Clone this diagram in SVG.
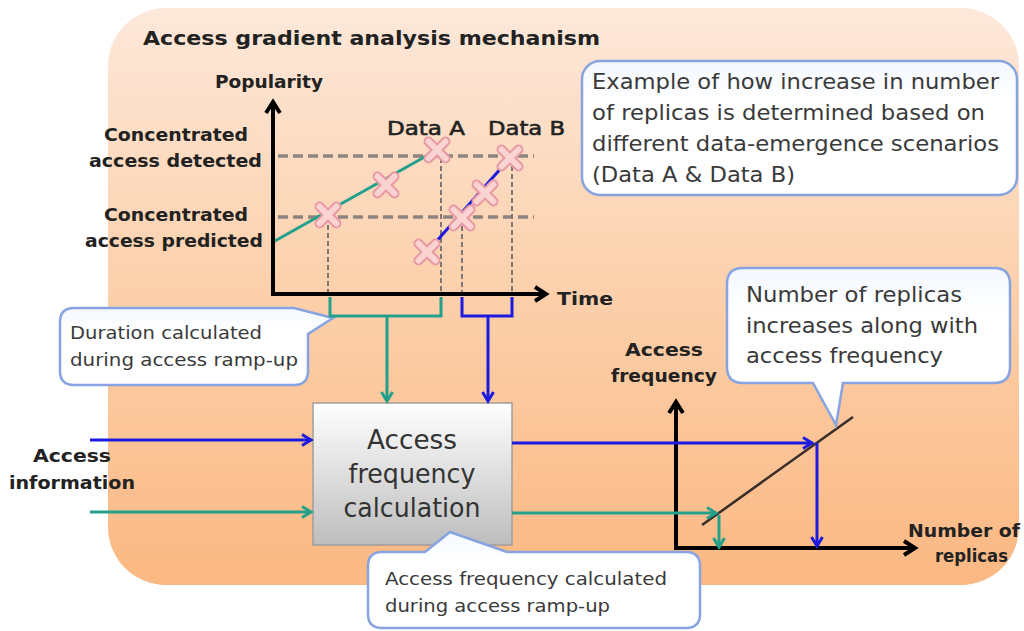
<svg xmlns="http://www.w3.org/2000/svg" width="1024" height="631" viewBox="0 0 1024 631">
  <defs>
    <linearGradient id="panelFill" x1="0" y1="0" x2="0" y2="1">
      <stop offset="0" stop-color="#FDE8DA"/>
      <stop offset="0.45" stop-color="#FCD2AF"/>
      <stop offset="1" stop-color="#FBB882"/>
    </linearGradient>
    <linearGradient id="boxFill" x1="0" y1="0" x2="0" y2="1">
      <stop offset="0" stop-color="#FFFFFF"/>
      <stop offset="1" stop-color="#BDBDBD"/>
    </linearGradient>
    <linearGradient id="calloutFill" x1="0" y1="0" x2="0" y2="1">
      <stop offset="0" stop-color="#F4F8FF"/>
      <stop offset="0.3" stop-color="#FFFFFF"/>
      <stop offset="1" stop-color="#FFFFFF"/>
    </linearGradient>
    <marker id="axisHead" markerUnits="userSpaceOnUse" markerWidth="18" markerHeight="18" refX="12" refY="8" orient="auto" overflow="visible">
      <path d="M1,1 L12,8 L1,15" fill="none" stroke="#000" stroke-width="4" stroke-linejoin="miter"/>
    </marker>
    <marker id="blueHead" markerUnits="userSpaceOnUse" markerWidth="14" markerHeight="14" refX="10" refY="6" orient="auto" overflow="visible">
      <path d="M1,0.5 L10,6 L1,11.5" fill="none" stroke="#1A1AE0" stroke-width="3"/>
    </marker>
    <marker id="greenHead" markerUnits="userSpaceOnUse" markerWidth="14" markerHeight="14" refX="10" refY="6" orient="auto" overflow="visible">
      <path d="M1,0.5 L10,6 L1,11.5" fill="none" stroke="#22A08C" stroke-width="3"/>
    </marker>
    <g id="xmark">
      <path d="M-8.5,-8.5 L8.5,8.5 M8.5,-8.5 L-8.5,8.5" stroke="#E79AA4" stroke-width="10" stroke-linecap="round"/>
      <path d="M-8.5,-8.5 L8.5,8.5 M8.5,-8.5 L-8.5,8.5" stroke="#FAD3D3" stroke-width="6" stroke-linecap="round"/>
    </g>
    <style>
      .lbl { font-family: "DejaVu Sans", "Liberation Sans", Arial, sans-serif; font-weight: bold; fill: #222; }
      .txt { font-family: "DejaVu Sans", "Liberation Sans", Arial, sans-serif; fill: #3A3A3A; }
      .tag { font-family: "DejaVu Sans", "Liberation Sans", Arial, sans-serif; fill: #222; stroke: #222; stroke-width: 0.6; }
      .callout { fill: url(#calloutFill); stroke: #87A3E0; stroke-width: 2.5; }
      .dashH { stroke: #8C8480; stroke-width: 3.5; stroke-dasharray: 10 5; fill: none; }
      .dashV { stroke: #7E7672; stroke-width: 2; stroke-dasharray: 5 3; fill: none; }
      .axis { stroke: #000; stroke-width: 4; fill: none; }
      .blue { stroke: #1A1AE0; stroke-width: 3; fill: none; }
      .green { stroke: #22A08C; stroke-width: 3; fill: none; }
    </style>
  </defs>

  <!-- page background and mechanism panel -->
  <rect x="0" y="0" width="1024" height="631" fill="#FFFFFF"/>
  <rect id="panel" x="108" y="8" width="911" height="577" rx="58" ry="58" fill="url(#panelFill)"/>
  <text class="lbl" x="143" y="45" font-size="20" textLength="457" lengthAdjust="spacingAndGlyphs">Access gradient analysis mechanism</text>

  <!-- popularity chart -->
  <g id="popularity-chart">
    <line class="dashH" x1="278" y1="156" x2="534" y2="156"/>
    <line class="dashH" x1="278" y1="217" x2="534" y2="217"/>
    <line class="dashV" x1="328" y1="217" x2="328" y2="294"/>
    <line class="dashV" x1="441" y1="150" x2="441" y2="294"/>
    <line class="dashV" x1="462" y1="218" x2="462" y2="294"/>
    <line class="dashV" x1="512" y1="158" x2="512" y2="294"/>
    <line x1="273" y1="242" x2="437" y2="150" stroke="#22A08C" stroke-width="3"/>
    <line x1="427" y1="252" x2="510" y2="158" stroke="#1A1AE0" stroke-width="3"/>
    <use href="#xmark" x="328" y="215"/>
    <use href="#xmark" x="386" y="185"/>
    <use href="#xmark" x="437" y="150"/>
    <use href="#xmark" x="427" y="252"/>
    <use href="#xmark" x="462" y="218"/>
    <use href="#xmark" x="485" y="193"/>
    <use href="#xmark" x="510" y="158"/>
    <line class="axis" x1="273" y1="296" x2="273" y2="102" marker-end="url(#axisHead)"/>
    <line class="axis" x1="271" y1="294" x2="546" y2="294" marker-end="url(#axisHead)"/>
    <text class="lbl" x="215" y="88" font-size="17" textLength="108" lengthAdjust="spacingAndGlyphs">Popularity</text>
    <text class="lbl" x="557" y="305" font-size="18" textLength="56" lengthAdjust="spacingAndGlyphs">Time</text>
    <text class="lbl" x="104" y="141" font-size="17" textLength="144" lengthAdjust="spacingAndGlyphs">Concentrated</text>
    <text class="lbl" x="89" y="167" font-size="17" textLength="173" lengthAdjust="spacingAndGlyphs">access detected</text>
    <text class="lbl" x="104" y="221" font-size="17" textLength="144" lengthAdjust="spacingAndGlyphs">Concentrated</text>
    <text class="lbl" x="85" y="247" font-size="17" textLength="178" lengthAdjust="spacingAndGlyphs">access predicted</text>
    <text class="tag" x="387" y="135" font-size="20" textLength="78" lengthAdjust="spacingAndGlyphs">Data A</text>
    <text class="tag" x="488" y="135" font-size="20" textLength="77" lengthAdjust="spacingAndGlyphs">Data B</text>
  </g>

  <!-- scenario note -->
  <g id="note-scenarios">
    <rect class="callout" x="582" y="61" width="435" height="134" rx="18" ry="18"/>
    <text class="txt" x="592" y="89" font-size="21" textLength="407" lengthAdjust="spacingAndGlyphs">Example of how increase in number</text>
    <text class="txt" x="592" y="120" font-size="21" textLength="393" lengthAdjust="spacingAndGlyphs">of replicas is determined based on</text>
    <text class="txt" x="592" y="151" font-size="21" textLength="407" lengthAdjust="spacingAndGlyphs">different data-emergence scenarios</text>
    <text class="txt" x="592" y="182" font-size="21" textLength="203" lengthAdjust="spacingAndGlyphs">(Data A &amp; Data B)</text>
  </g>

  <!-- duration note -->
  <g id="note-duration">
    <path class="callout" d="M74,308 H294 L333,318 L308,334 V371 Q308,385 294,385 H74 Q60,385 60,371 V322 Q60,308 74,308 Z"/>
    <text class="txt" x="70" y="339" font-size="18" textLength="192" lengthAdjust="spacingAndGlyphs">Duration calculated</text>
    <text class="txt" x="70" y="366" font-size="18" textLength="228" lengthAdjust="spacingAndGlyphs">during access ramp-up</text>
  </g>

  <!-- calculation node -->
  <g id="access-frequency-calculation">
    <rect x="313" y="403" width="199" height="142" fill="url(#boxFill)" stroke="#9E9E9E" stroke-width="1.5"/>
    <text class="txt" x="412" y="449" font-size="27" text-anchor="middle" style="fill:#333" textLength="90" lengthAdjust="spacingAndGlyphs">Access</text>
    <text class="txt" x="412" y="483" font-size="27" text-anchor="middle" style="fill:#333" textLength="127" lengthAdjust="spacingAndGlyphs">frequency</text>
    <text class="txt" x="412" y="517" font-size="27" text-anchor="middle" style="fill:#333" textLength="137" lengthAdjust="spacingAndGlyphs">calculation</text>
  </g>

  <!-- input label -->
  <g id="access-information">
    <text class="lbl" x="72" y="462" font-size="17" text-anchor="middle" textLength="78" lengthAdjust="spacingAndGlyphs">Access</text>
    <text class="lbl" x="72" y="489" font-size="17" text-anchor="middle" textLength="126" lengthAdjust="spacingAndGlyphs">information</text>
  </g>

  <!-- replica chart -->
  <g id="replica-chart">
    <line x1="702" y1="525" x2="853" y2="417" stroke="#3A2E2A" stroke-width="2.5"/>
    <line class="axis" x1="676" y1="550" x2="676" y2="402" marker-end="url(#axisHead)"/>
    <line class="axis" x1="674" y1="548" x2="915" y2="548" marker-end="url(#axisHead)"/>
    <text class="lbl" x="664" y="356" font-size="17" text-anchor="middle" textLength="78" lengthAdjust="spacingAndGlyphs">Access</text>
    <text class="lbl" x="664" y="382" font-size="17" text-anchor="middle" textLength="106" lengthAdjust="spacingAndGlyphs">frequency</text>
    <text class="lbl" x="908" y="537" font-size="17" textLength="112" lengthAdjust="spacingAndGlyphs">Number of</text>
    <text class="lbl" x="935" y="562" font-size="17" textLength="73" lengthAdjust="spacingAndGlyphs">replicas</text>
  </g>

  <!-- replica growth note -->
  <g id="note-replicas">
    <path class="callout" d="M743,268 H994 Q1010,268 1010,284 V367 Q1010,383 994,383 H843 L836,425 L813,383 H743 Q727,383 727,367 V284 Q727,268 743,268 Z"/>
    <text class="txt" x="746" y="302" font-size="21" textLength="216" lengthAdjust="spacingAndGlyphs">Number of replicas</text>
    <text class="txt" x="746" y="333" font-size="21" textLength="232" lengthAdjust="spacingAndGlyphs">increases along with</text>
    <text class="txt" x="746" y="363" font-size="21" textLength="197" lengthAdjust="spacingAndGlyphs">access frequency</text>
  </g>

  <!-- ramp-up frequency note -->
  <g id="note-frequency">
    <path class="callout" d="M382,552 H425 L450,532 L507,552 H686 Q700,552 700,566 V614 Q700,628 686,628 H382 Q368,628 368,614 V566 Q368,552 382,552 Z"/>
    <text class="txt" x="385" y="585" font-size="18" textLength="282" lengthAdjust="spacingAndGlyphs">Access frequency calculated</text>
    <text class="txt" x="385" y="612" font-size="18" textLength="225" lengthAdjust="spacingAndGlyphs">during access ramp-up</text>
  </g>

  <!-- connectors -->
  <g id="connectors">
    <path class="green" d="M330,297 V316 H441 V297"/>
    <path class="blue" d="M462,297 V316 H512 V297"/>
    <line class="green" x1="387" y1="316" x2="387" y2="401" marker-end="url(#greenHead)"/>
    <line class="blue" x1="488" y1="316" x2="488" y2="401" marker-end="url(#blueHead)"/>
    <line class="blue" x1="90" y1="440" x2="311" y2="440" marker-end="url(#blueHead)"/>
    <line class="green" x1="90" y1="512" x2="311" y2="512" marker-end="url(#greenHead)"/>
    <line class="blue" x1="512" y1="443" x2="812" y2="443" marker-end="url(#blueHead)"/>
    <line class="blue" x1="817" y1="443" x2="817" y2="546" marker-end="url(#blueHead)"/>
    <line class="green" x1="512" y1="513" x2="716" y2="513" marker-end="url(#greenHead)"/>
    <line class="green" x1="719" y1="515" x2="719" y2="547" marker-end="url(#greenHead)"/>
  </g>
</svg>
